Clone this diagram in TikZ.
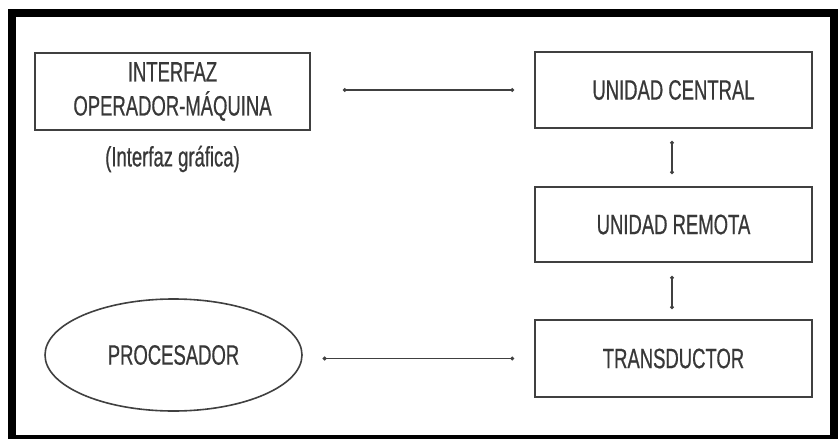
\documentclass[tikz,border=0pt]{standalone}
\usepackage{fontspec}
\setmainfont{Liberation Sans}[FakeStretch=0.66, FakeBold=0.6]
\usetikzlibrary{shapes.geometric,arrows.meta}
\definecolor{ink}{HTML}{383838}
\definecolor{edge}{HTML}{404040}
\tikzset{
  blockbox/.style={draw=edge, line width=1.8pt, rectangle, text=ink,
    align=center, inner sep=0pt},
  ovalbox/.style={draw=edge, line width=1.6pt, ellipse, text=ink, inner sep=0pt},
  conn/.style={draw=edge, line width=1.8pt,
    {Circle[length=3.6pt]}-{Circle[length=3.6pt]}},
  caption/.style={text=ink, inner sep=0pt},
}
\begin{document}
\begin{tikzpicture}[x=1pt, y=-1pt, font=\fontsize{28}{34}\selectfont]
\useasboundingbox (0,0) rectangle (838,439);
% outer frame
\draw[line width=8pt, black] (12,12.5) rectangle (834,439);

% blocks
\node[blockbox, minimum width=275pt, minimum height=77pt] (iface) at (172.5,91.5)
  {INTERFAZ\\OPERADOR-MÁQUINA};
\node[caption] (ifacenote) at (172.5,159) {(Interfaz gráfica)};
\node[blockbox, minimum width=277pt, minimum height=76pt] (central) at (673.5,90)
  {UNIDAD CENTRAL};
\node[blockbox, minimum width=277pt, minimum height=75pt] (remota) at (673.5,224.5)
  {UNIDAD REMOTA};
\node[blockbox, minimum width=277pt, minimum height=77pt] (transd) at (673.5,358.5)
  {TRANSDUCTOR};
\node[ovalbox, minimum width=257pt, minimum height=112pt] (proc) at (173.5,355)
  {PROCESADOR};

% links
\draw[conn, shorten <=32pt, shorten >=20pt] (iface.east |- central.west) -- (central.west);
\draw[conn, shorten <=12pt, shorten >=12pt] ([xshift=-1.5pt]central.south) -- ([xshift=-1.5pt]remota.north);
\draw[conn, shorten <=13pt, shorten >=10pt] ([xshift=-1.5pt]remota.south) -- ([xshift=-1.5pt]transd.north);
\draw[conn, shorten <=20pt, shorten >=20pt] (proc.east |- transd.west) -- (transd.west);
\end{tikzpicture}
\end{document}
